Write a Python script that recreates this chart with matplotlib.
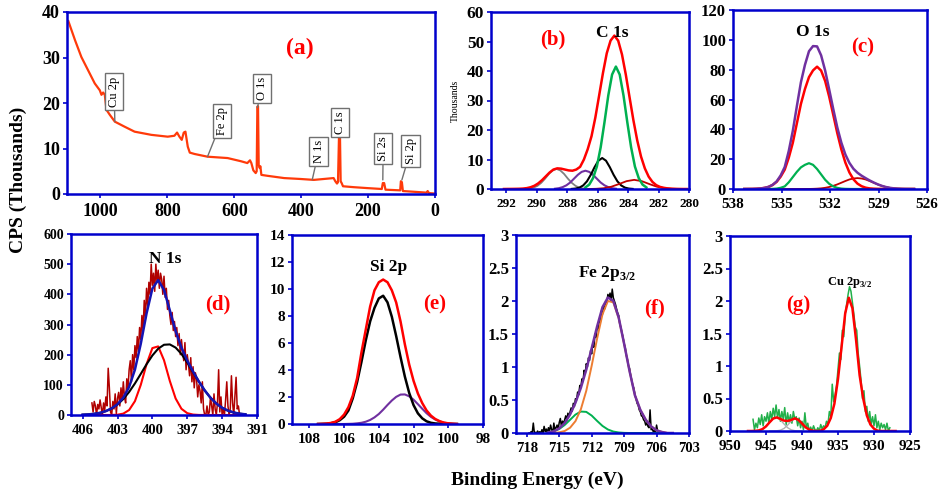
import numpy as np
import matplotlib
matplotlib.use('Agg')
from matplotlib import pyplot as plt

# ---------------- data ----------------
# (a) survey spectrum, binding energy (eV) / counts (thousands)
survey_be = [1096, 1076, 1057, 1037, 1017, 1002, 997, 992, 987, 982, 972, 957, 928, 898,
             848, 799, 779, 771, 764, 757, 751, 746, 739, 733, 719, 680, 620, 580, 561,
             553, 549, 543, 536, 533, 531, 529, 527, 524, 522, 519, 501, 451, 402, 362,
             303, 298, 293, 290, 287, 284, 282, 279, 275, 243, 203, 159, 156, 152, 148,
             104, 102, 99, 96, 55, 25, 22, 18, 0]
survey_cps = [38.0, 33.8, 30.1, 27.2, 24.3, 22.8, 21.8, 22.3, 21.8, 18.5, 17.4, 15.9, 14.8, 13.7,
              13.0, 12.6, 12.8, 13.5, 12.6, 11.9, 13.5, 13.7, 10.4, 9.1, 8.8, 8.2, 7.9, 7.2, 6.8,
              7.4, 6.8, 5.2, 4.6, 5.0, 19.2, 19.3, 6.4, 5.7, 6.1, 4.2, 4.0, 3.5, 3.3, 3.1,
              3.5, 2.8, 2.3, 2.6, 12.6, 12.6, 2.8, 2.4, 1.7, 1.5, 1.3, 1.1, 2.4, 2.4, 0.95,
              0.8, 2.8, 2.6, 0.65, 0.45, 0.3, 0.65, 0.2, 0.1]
survey_labels = ['Cu 2p', 'Fe 2p', 'O 1s', 'N 1s', 'C 1s', 'Si 2s', 'Si 2p']
survey_label_pos = [(959, 22.5), (637, 16.1), (517, 23.2), (348, 9.3), (283, 15.7), (155, 9.9), (73, 9.5)]
survey_label_tip = [(957, 15.9), (680, 8.2), (531, 19.0), (367, 3.1), (283, 12.3), (156, 3.1), (99, 3.1)]

# (b) C 1s (thousands)
c1s_env_x = np.linspace(292.15, 280.15, 49)
c1s_env = [0, 0.02, 0.03, 0.05, 0.08, 0.15, 0.3, 0.6, 1.1, 1.9, 3.0, 4.3, 5.6, 6.6, 7.0, 6.9,
           6.6, 6.3, 6.2, 6.6, 7.5, 10, 13.5, 17.9, 24.2, 31.7, 39.3, 46, 50.3, 52, 50.3, 45.6,
           38.8, 31, 23.3, 16.5, 11, 7, 4.2, 2.4, 1.3, 0.7, 0.4, 0.2, 0.1, 0.05, 0.02, 0, 0]
c1s_green_x = np.linspace(286.8, 282.8, 17)
c1s_green = [0.55, 1.5, 3.7, 7.6, 14.1, 22.6, 31.7, 38.8, 41.5, 38.8, 31.7, 22.6, 14.1, 7.6, 3.7, 1.5, 0.55]
c1s_black_x = np.linspace(287.7, 283.7, 17)
c1s_black = [0.04, 0.15, 0.46, 1.2, 2.6, 4.8, 7.4, 9.6, 10.5, 9.6, 7.4, 4.8, 2.6, 1.2, 0.46, 0.15, 0.04]
c1s_purple_x = np.linspace(288.8, 284.8, 17)
c1s_purple = [0.1, 0.27, 0.63, 1.25, 2.2, 3.5, 4.8, 5.8, 6.2, 5.8, 4.8, 3.5, 2.2, 1.25, 0.63, 0.27, 0.1]
c1s_gray_x = np.linspace(290.7, 286.7, 17)
c1s_gray = [0.06, 0.18, 0.47, 1.07, 2.1, 3.5, 5.1, 6.3, 6.8, 6.3, 5.1, 3.5, 2.1, 1.07, 0.47, 0.18, 0.06]
c1s_dred_x = np.linspace(286.6, 280.6, 13)
c1s_dred = [0.01, 0.07, 0.26, 0.77, 1.67, 2.66, 3.1, 2.66, 1.67, 0.77, 0.26, 0.07, 0.01]

# (c) O 1s
o1s_x = np.linspace(537.3, 526.8, 43)
o1s_env = [0, 0.02, 0.05, 0.15, 0.35, 0.75, 1.43, 2.8, 5.09, 9.1,
           14.75, 25.5, 39, 55.5, 71.5, 83.2, 92.35, 95.8, 95.6, 89.6,
           79.4, 66.7, 53.65, 41.3, 31.1, 23.15, 17.5, 13.55, 10.9, 8.95,
           7.3, 5.75, 4.38, 3.14, 2.13, 1.34, 0.8, 0.44, 0.23, 0.11,
           0.05, 0.02, 0]
o1s_red = [0, 0.02, 0.05, 0.15, 0.35, 0.75, 1.4, 2.7, 4.8, 8.3,
           13, 21, 31, 44, 57, 67, 75, 79.5, 82, 79.4,
           72.4, 61.9, 49.8, 37.5, 26.6, 17.7, 11.1, 6.5, 3.6, 1.9,
           0.9, 0.4, 0.18, 0.07, 0.03, 0, 0, 0, 0, 0,
           0, 0, 0]
o1s_green = [0, 0, 0, 0, 0, 0, 0.03, 0.1, 0.29, 0.8,
             1.75, 4.5, 8, 11.5, 14.5, 16.2, 17.3, 16.2, 13.4, 9.8,
             6.2, 3.5, 1.75, 0.76, 0.29, 0.1, 0.03, 0, 0, 0,
             0, 0, 0, 0, 0, 0, 0, 0, 0, 0,
             0, 0, 0]
o1s_dred = [0, 0, 0, 0, 0, 0, 0, 0, 0, 0,
            0, 0, 0, 0, 0, 0.02, 0.05, 0.11, 0.23, 0.44,
            0.8, 1.34, 2.1, 3.07, 4.2, 5.35, 6.4, 7.05, 7.3, 7.05,
            6.4, 5.35, 4.2, 3.07, 2.1, 1.34, 0.8, 0.44, 0.23, 0.11,
            0.05, 0.02, 0]

# (d) N 1s
n1s_x = np.linspace(406, 392, 29)
n1s_env = [1, 2, 3.9, 7.2, 12.9, 22, 35.8, 57.5, 92.9, 150.5, 235.8, 336.7, 419.1, 447.3, 414.4,
           346.9, 278.1, 223.1, 180.4, 144, 110.9, 81.6, 57.1, 38, 24, 14.4, 8.2, 4.4, 2.3]
n1s_black = [1, 2, 3.9, 7.2, 12.9, 21.8, 34.8, 52.9, 76.4, 104.6, 136.1, 168.2, 197.3, 219.9, 232.8,
             234, 223.4, 202.5, 174.3, 142.6, 110.7, 81.6, 57.1, 38, 24, 14.4, 8.2, 4.4, 2.3]
n1s_red = [0, 0, 0, 0, 0, 0.2, 1, 4.6, 16.5, 45.9, 99.7, 168.5, 221.8, 227.4, 181.6, 112.9, 54.7,
           20.6, 6.1, 1.4, 0.2, 0, 0, 0, 0, 0, 0, 0, 0]
n1s_raw_x = np.linspace(405.2, 392.5, 128)
n1s_raw = [40, 10, 45, 30, 0, 35, 20, 50, 25, 0, 40, 15, 60,
           30, 155, 90, 10, 0, 45, 20, 70, 5, 55,
           75, 30, 90, 50, 110, 60, 40, 120, 85, 150,
           180, 110, 200, 150, 230, 190, 260, 210, 290, 250,
           330, 280, 380, 320, 420, 360, 440, 400, 500, 430,
           470, 410, 500, 440, 480, 420, 470, 450, 400, 460,
           390, 420, 350, 380, 330, 300, 340, 280, 310, 260,
           290, 230, 270, 200, 250, 210, 180, 240, 150, 200,
           170, 130, 190, 110, 160, 90, 140, 120, 60, 100,
           80, 40, 110, 20, 0, 0, 30, 0, 10, 60,
           30, 0, 70, 20, 0, 40, 150, 10, 60, 0,
           20, 0, 50, 110, 30, 0, 20, 130, 40, 0,
           60, 125, 20, 30, 0]

# (e) Si 2p
si_x = np.linspace(107.5, 99.5, 33)
si_red = [0, 0.01, 0.03, 0.08, 0.17, 0.36, 0.7, 1.25, 2.1, 3.4, 5.3, 7.0, 8.7, 9.9, 10.5, 10.7,
          10.5, 9.9, 9.0, 7.6, 5.9, 4.4, 3.2, 2.26, 1.55, 1.0, 0.62, 0.37, 0.21, 0.1, 0.05, 0.02, 0]
si_black = [0, 0.01, 0.02, 0.06, 0.13, 0.28, 0.54, 1.0, 1.9, 3.1, 4.6, 6.2, 7.6, 8.6, 9.3, 9.5,
            9.01, 7.94, 6.51, 4.96, 3.51, 2.3, 1.4, 0.79, 0.42, 0.2, 0.09, 0.04, 0.02, 0, 0, 0, 0]
si_purple = [0, 0, 0, 0, 0, 0, 0, 0.01, 0.02, 0.05, 0.09, 0.17, 0.3, 0.49, 0.74, 1.06, 1.41,
             1.74, 2.01, 2.18, 2.19, 2.05, 1.8, 1.47, 1.13, 0.8, 0.53, 0.33, 0.19, 0.1, 0.05, 0.02, 0]

# (f) Fe 2p3/2
fe_x = np.linspace(716, 704.5, 24)
fe_env = [0.009, 0.026, 0.071, 0.151, 0.28, 0.459, 0.685, 0.96, 1.284, 1.613, 1.907, 2.053,
          2.002, 1.748, 1.352, 0.94, 0.57, 0.35, 0.2, 0.1, 0.04, 0.015, 0, 0]
fe_orange = [0, 0, 0.01, 0.03, 0.08, 0.18, 0.36, 0.64, 1.02, 1.43, 1.8, 2.0, 1.98, 1.74, 1.35,
             0.94, 0.57, 0.35, 0.2, 0.1, 0.04, 0.015, 0, 0]
fe_green = [0.009, 0.026, 0.061, 0.121, 0.2, 0.279, 0.325, 0.32, 0.264, 0.183, 0.107, 0.053,
            0.022, 0.008, 0.002, 0, 0, 0, 0, 0, 0, 0, 0, 0]
fe_raw_x = np.linspace(717.8, 705.8, 121)
fe_raw = [0, 0, 0.02, 0, 0.15, 0, 0.01, 0, 0.03,
          0, 0.02, 0, 0.05, 0, 0.1, 0.02, 0.06, 0.0, 0.08,
          0.03, 0.12, 0.05, 0.0, 0.15, 0.04, 0.08, 0.12, 0.06, 0.16,
          0.22, 0.1, 0.18, 0.14, 0.2, 0.26, 0.19, 0.3, 0.25, 0.32,
          0.38, 0.33, 0.45, 0.4, 0.52, 0.5, 0.62, 0.58, 0.72, 0.7,
          0.82, 0.78, 0.95, 0.9, 1.05, 1.0, 1.14, 1.1, 1.25, 1.2,
          1.35, 1.3, 1.5, 1.45, 1.6, 1.58, 1.72, 1.68, 1.85, 1.8,
          1.92, 1.88, 2.0, 1.98, 2.1, 2.05, 2.12, 2.0, 2.18, 2.05,
          2.0, 1.95, 1.88, 1.82, 1.78, 1.65, 1.6, 1.52, 1.45, 1.35,
          1.3, 1.18, 1.12, 1.02, 0.98, 0.88, 0.8, 0.72, 0.68, 0.58,
          0.52, 0.45, 0.42, 0.35, 0.32, 0.26, 0.25, 0.2, 0.18, 0.12,
          0.16, 0.1, 0.08, 0.35, 0.05, 0.06, 0.02, 0.04, 0.0, 0.12,
          0.03, 0]

# (g) Cu 2p3/2
cu_x = np.linspace(947.5, 927, 42)
cu_red = [0, 0, 0.002, 0.009, 0.028, 0.071, 0.134, 0.192, 0.209, 0.185, 0.16, 0.155, 0.17, 0.194,
          0.172, 0.115, 0.057, 0.021, 0.005, 0, 0.002, 0.025, 0.08, 0.2, 0.42, 0.8, 1.3, 1.81,
          2.05, 1.89, 1.41, 0.86, 0.5, 0.24, 0.1, 0.035, 0.005, 0, 0, 0, 0, 0]
cu_sat1_x = np.linspace(947, 940, 15)
cu_sat1 = [0, 0.002, 0.009, 0.028, 0.071, 0.134, 0.192, 0.209, 0.172, 0.108, 0.051, 0.018, 0.005, 0.001, 0]
cu_sat2_x = np.linspace(944.5, 937.5, 15)
cu_sat2 = [0, 0.001, 0.003, 0.013, 0.039, 0.09, 0.152, 0.189, 0.172, 0.115, 0.057, 0.021, 0.005, 0.001, 0]
cu_raw_x = np.linspace(946.8, 927.8, 96)
cu_raw = [0.18, 0.02, 0.12, 0.05, 0.2,
          0.1, 0.25, 0.08, 0.22, 0.15,
          0.28, 0.12, 0.3, 0.18, 0.35,
          0.22, 0.4, 0.2, 0.33, 0.15,
          0.3, 0.18, 0.36, 0.1, 0.28,
          0.14, 0.25, 0.12, 0.3, 0.18,
          0.22, 0.08, 0.2, 0.05, 0.15,
          0.02, 0.28, 0.05, 0.12, 0.0,
          0.06, 0.0, 0.08, 0.02, 0.0,
          0.05, 0.0, 0.1, 0.03, 0.08,
          0.05, 0.15, 0.1, 0.3, 0.22,
          0.72, 0.45, 0.55, 0.7, 0.95,
          1.2, 1.1, 1.55, 1.45, 1.8,
          1.95, 2.1, 2.22, 2.15, 1.98,
          1.8, 1.6, 1.55, 1.2, 1.0,
          0.78, 0.5, 0.62, 0.3, 0.38,
          0.15, 0.3, 0.1, 0.22, 0.08,
          0.25, 0.05, 0.15, 0.02, 0.12,
          0.05, 0.1, 0.02, 0.12, 0.0,
          0.05]

# ---------------- drawing ----------------
plt.rcParams['font.family'] = ['Liberation Serif', 'DejaVu Serif']
plt.rcParams['font.weight'] = 'bold'
plt.rcParams['mathtext.fontset'] = 'custom'
plt.rcParams['mathtext.rm'] = 'Liberation Serif:bold'

BLUE = '#0000cc'
RED = '#ff0000'
W, H = 943, 493

fig = plt.figure(figsize=(W / 100, H / 100), dpi=100)


def panel(x0, x1, y0, y1):
    # pixel box -> figure axes
    return fig.add_axes([x0 / W, 1 - y1 / H, (x1 - x0) / W, (y1 - y0) / H])


def style(ax, xlim, xticks, ylim, yticks, xfs, yfs, ylabels=None):
    ax.set_xlim(xlim)
    ax.set_ylim(ylim)
    ax.set_xticks(xticks)
    ax.set_yticks(yticks)
    if ylabels is not None:
        ax.set_yticklabels(ylabels)
    for sp in ax.spines.values():
        sp.set_color(BLUE)
        sp.set_linewidth(1.8)
    ax.tick_params(color=BLUE, length=3, width=1.2)
    ax.tick_params(axis='x', labelsize=xfs, pad=3.5)
    ax.tick_params(axis='y', labelsize=yfs, pad=2)


def tag(ax, fx, fy, s, size=15):
    ax.text(fx, fy, s, transform=ax.transAxes, color=RED, fontsize=size,
            fontweight='bold', ha='center', va='center')


def title(ax, fx, fy, s, size=12.5):
    ax.text(fx, fy, s, transform=ax.transAxes, color='black', fontsize=size,
            fontweight='bold', ha='center', va='center')


# (a) survey
ax = panel(67, 435, 12, 194)
ax.plot(survey_be, survey_cps, color='#ff3a0a', lw=1.6)
for lab, pos, tip in zip(survey_labels, survey_label_pos, survey_label_tip):
    ax.annotate(lab, xy=tip, xytext=pos, rotation=90, ha='center', va='center',
                fontsize=9, fontweight='normal',
                bbox=dict(boxstyle='square,pad=0.25', fc='white', ec='#707070', lw=1),
                arrowprops=dict(arrowstyle='-', color='#707070', lw=1, shrinkA=0, shrinkB=0))
style(ax, (1100, 0), [1000, 800, 600, 400, 200, 0], (0, 40), [0, 10, 20, 30, 40], 13, 13)
tag(ax, 0.633, 0.80, '(a)', 17)

# (b) C 1s
ax = panel(491, 689, 12, 189)
ax.plot(c1s_gray_x, c1s_gray, color='#808080', lw=1.3)
ax.plot(c1s_purple_x, c1s_purple, color='#7030a0', lw=1.5)
ax.plot(c1s_black_x, c1s_black, color='black', lw=1.5)
ax.plot(c1s_dred_x, c1s_dred, color='#c00000', lw=1.3)
ax.plot(c1s_green_x, c1s_green, color='#00b050', lw=1.8)
ax.plot(c1s_env_x, c1s_env, color=RED, lw=1.8)
style(ax, (293, 280), list(range(292, 279, -2)), (0, 60), list(range(0, 61, 10)), 9.5, 12.5)
ax.set_ylabel('Thousands', fontsize=7, fontweight='normal', labelpad=5)
title(ax, 0.611, 0.88, 'C 1s')
tag(ax, 0.313, 0.842, '(b)')

# (c) O 1s
ax = panel(733, 927, 10, 189)
ax.plot(o1s_x, o1s_dred, color='#c00000', lw=1.3)
ax.plot(o1s_x, o1s_green, color='#00b050', lw=1.6)
ax.plot(o1s_x, o1s_red, color=RED, lw=1.8)
ax.plot(o1s_x, o1s_env, color='#7030a0', lw=1.8)
style(ax, (538, 526), [538, 535, 532, 529, 526], (0, 120), list(range(0, 121, 20)), 11, 12)
title(ax, 0.412, 0.877, 'O 1s')
tag(ax, 0.670, 0.793, '(c)')

# (d) N 1s
ax = panel(71, 257, 234, 415)
ax.plot(n1s_raw_x, n1s_raw, color='#b00000', lw=1.1)
ax.plot(n1s_x, n1s_red, color=RED, lw=1.5)
ax.plot(n1s_x, n1s_black, color='black', lw=1.5)
ax.plot(n1s_x, n1s_env, color='#1414b4', lw=1.8)
style(ax, (407, 391), [406, 403, 400, 397, 394, 391], (0, 600), list(range(0, 601, 100)), 10.5, 10)
title(ax, 0.505, 0.862, 'N 1s')
tag(ax, 0.79, 0.608, '(d)')

# (e) Si 2p
ax = panel(292, 483, 235, 424)
ax.plot(si_x, si_purple, color='#7030a0', lw=1.5)
ax.plot(si_x, si_black, color='black', lw=1.8)
ax.plot(si_x, si_red, color=RED, lw=1.8)
style(ax, (109, 98), [108, 106, 104, 102, 100, 98], (0, 14), list(range(0, 15, 2)), 11, 11)
title(ax, 0.508, 0.831, 'Si 2p')
tag(ax, 0.749, 0.63, '(e)')

# (f) Fe 2p3/2
halves = ['0', '0.5', '1', '1.5', '2', '2.5', '3']
ax = panel(516, 689, 235, 433)
ax.plot(fe_raw_x, fe_raw, color='black', lw=1.1)
ax.plot(fe_x, fe_green, color='#00b050', lw=1.4)
ax.plot(fe_x, fe_orange, color='#ed7d31', lw=1.4)
ax.plot(fe_x, fe_env, color='#7030a0', lw=1.8)
style(ax, (719, 703), [718, 715, 712, 709, 706, 703], (0, 3), np.arange(0, 3.01, 0.5), 10.5, 12, halves)
title(ax, 0.526, 0.808, r'Fe 2p$_{3/2}$')
tag(ax, 0.803, 0.631, '(f)')

# (g) Cu 2p3/2
ax = panel(730, 910, 236, 431)
ax.plot(cu_raw_x, cu_raw, color='#22b04a', lw=1.1)
ax.plot(cu_sat1_x, cu_sat1, color='#b0b0b0', lw=1)
ax.plot(cu_sat2_x, cu_sat2, color='#b0b0b0', lw=1)
ax.plot(cu_x, cu_red, color=RED, lw=1.8)
style(ax, (950, 925), [950, 945, 940, 935, 930, 925], (0, 3), np.arange(0, 3.01, 0.5), 11, 12, halves)
title(ax, 0.667, 0.759, r'Cu 2p$_{3/2}$', 9)
tag(ax, 0.378, 0.646, '(g)')

fig.text(18 / W, 1 - 180 / H, 'CPS (Thousands)', rotation=90, ha='center', va='center',
         fontsize=14, fontweight='bold')
fig.text(537 / W, 1 - 480 / H, 'Binding Energy (eV)', ha='center', va='center',
         fontsize=14, fontweight='bold')

fig.savefig('out.png', dpi=100)
